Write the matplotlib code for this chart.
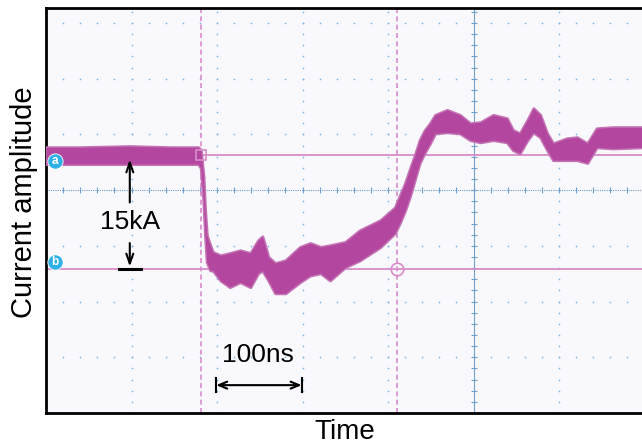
"""
Oscilloscope-style current waveform: 15kA drop over ~100ns.
Time axis in ns (100 ns / division), amplitude in screen divisions.
"""
import numpy as np
import matplotlib.pyplot as plt

plt.rcParams["font.family"] = ["Liberation Sans", "DejaVu Sans"]

# --- waveform envelope (upper / lower edge of the noisy band) ---
time_ns = [0, 40, 98, 145, 178, 181, 184, 186, 188, 192, 195, 204, 215, 227, 239,
           248, 253, 260, 268, 280, 297, 309, 321, 332, 350, 367, 391, 408, 414,
           420, 426, 432, 437, 443, 449, 455, 469, 484, 496, 508, 523, 539, 546,
           554, 563, 570, 578, 586, 593, 609, 621, 633, 644, 663, 697]
upper_div = [0.77, 0.77, 0.79, 0.77, 0.77, 0.72, 0.27, -0.36, -0.81, -0.99, -1.11,
             -1.17, -1.13, -1.08, -1.13, -0.90, -0.83, -1.20, -1.31, -1.26, -1.02,
             -0.95, -1.02, -0.99, -0.93, -0.72, -0.54, -0.31, -0.09, 0.13, 0.40,
             0.66, 0.90, 1.08, 1.20, 1.35, 1.44, 1.35, 1.20, 1.22, 1.35, 1.29,
             1.08, 1.02, 1.26, 1.47, 1.35, 1.02, 0.84, 0.93, 0.95, 0.84, 1.11,
             1.13, 1.13]
lower_div = [0.47, 0.47, 0.47, 0.47, 0.47, 0.40, -0.18, -0.81, -1.29, -1.44, -1.44,
             -1.62, -1.74, -1.65, -1.74, -1.49, -1.44, -1.62, -1.85, -1.85, -1.65,
             -1.53, -1.49, -1.62, -1.38, -1.26, -1.02, -0.77, -0.58, -0.36, -0.09,
             0.23, 0.49, 0.68, 0.84, 1.02, 1.04, 1.02, 0.90, 0.86, 0.90, 0.86,
             0.72, 0.66, 0.90, 1.04, 0.95, 0.72, 0.54, 0.54, 0.54, 0.49, 0.77,
             0.75, 0.77]

# cursors
cursor_a = 0.64      # level a (div)
cursor_b = -1.42     # level b (div)
cursor_t1 = 181      # ns
cursor_t2 = 411      # ns

TRACE = "#b3469e"
CURSOR = "#d98ccb"
GRID = "#7fb4e0"

fig = plt.figure(figsize=(6.42, 4.47), dpi=100)
ax = fig.add_axes([46 / 642, 34 / 447, 596 / 642, 405 / 447])
ax.set_facecolor("#f9f9fd")
ax.set_xlim(0, 697)
ax.set_ylim(-4.0, 3.27)

# dotted graticule
for k in [1, 2, 3, 4, 6]:
    yy = np.arange(-4.0, 3.3, 0.2)
    ax.scatter(np.full_like(yy, k * 100.0), yy, s=1.5, color=GRID, lw=0, zorder=1)
for k in [-3, -2, -1, 1, 2, 3]:
    xx = np.arange(0, 700, 20)
    ax.scatter(xx, np.full_like(xx, k, dtype=float), s=1.5, color=GRID, lw=0, zorder=1)

# centre lines with minor ticks
ax.axhline(0, color="#6f9fcf", lw=0.8, ls=(0, (1, 1)), zorder=1)
ax.axvline(500, color="#6f9fcf", lw=0.8, zorder=1)
xt = np.arange(20, 700, 20)
ax.plot(xt, np.zeros_like(xt), ls="none", marker="|", ms=5, mew=0.8, color="#6f9fcf", zorder=1)
yt = np.arange(-3.8, 3.3, 0.2)
ax.plot(np.full_like(yt, 500), yt, ls="none", marker="_", ms=5, mew=0.8, color="#6f9fcf", zorder=1)

# cursors
ax.axhline(cursor_a, color=CURSOR, lw=1.3, zorder=2)
ax.axhline(cursor_b, color=CURSOR, lw=1.3, zorder=2)
ax.axvline(cursor_t1, color=CURSOR, lw=1.2, ls=(0, (3, 2)), zorder=2)
ax.axvline(cursor_t2, color=CURSOR, lw=1.2, ls=(0, (3, 2)), zorder=2)

# waveform band, soft edge mimics the noise fringe
ax.fill_between(time_ns, lower_div, upper_div, color=TRACE, lw=2.2,
                edgecolor="#c474b4", zorder=3)
ax.fill_between(time_ns, lower_div, upper_div, color=TRACE, lw=0, zorder=3)

ax.plot([cursor_t1], [cursor_a], marker="s", ms=7, mfc="none", mec=CURSOR, mew=1.2, zorder=4)
ax.plot([cursor_t2], [cursor_b], marker="o", ms=9, mfc="none", mec=CURSOR, mew=1.2, zorder=4)

# a / b markers
for lab, yv in [("a", 0.52), ("b", -1.29)]:
    ax.plot([10.5], [yv], marker="o", ms=11, color="#2fb0e6", mec="white", mew=0.6,
            zorder=5, clip_on=False)
    ax.text(10.5, yv, lab, color="white", fontsize=8.5, fontweight="bold",
            ha="center", va="center", zorder=6)

# 15kA annotation
ax.annotate("", xy=(98, 0.60), xytext=(98, -0.27),
            arrowprops=dict(arrowstyle="->,head_length=0.7,head_width=0.25", lw=1.5, color="black"))
ax.annotate("", xy=(98, cursor_b), xytext=(98, -0.90),
            arrowprops=dict(arrowstyle="->,head_length=0.7,head_width=0.25", lw=1.5, color="black"))
ax.plot([85, 111], [cursor_b, cursor_b], color="black", lw=2.2, zorder=5)
ax.text(98, -0.57, "15kA", fontsize=19, ha="center", va="center")

# 100ns annotation
ax.annotate("", xy=(199, -3.50), xytext=(299, -3.50),
            arrowprops=dict(arrowstyle="<->,head_length=0.6,head_width=0.25", lw=1.5,
                            color="black", shrinkA=0, shrinkB=0))
ax.plot([199, 199], [-3.62, -3.38], color="black", lw=1.5)
ax.plot([299, 299], [-3.62, -3.38], color="black", lw=1.5)
ax.text(248, -2.96, "100ns", fontsize=19, ha="center", va="center")

ax.set_xticks([])
ax.set_yticks([])
for side in ["left", "bottom", "top"]:
    ax.spines[side].set_linewidth(2)
    ax.spines[side].set_color("black")
ax.spines["right"].set_visible(False)

fig.text(345 / 642, 1 - 432 / 447, "Time", fontsize=20, ha="center", va="center")
fig.text(24 / 642, 1 - 202 / 447, "Current amplitude", fontsize=21, rotation=90,
         ha="center", va="center")

fig.savefig("out.png", dpi=100)
